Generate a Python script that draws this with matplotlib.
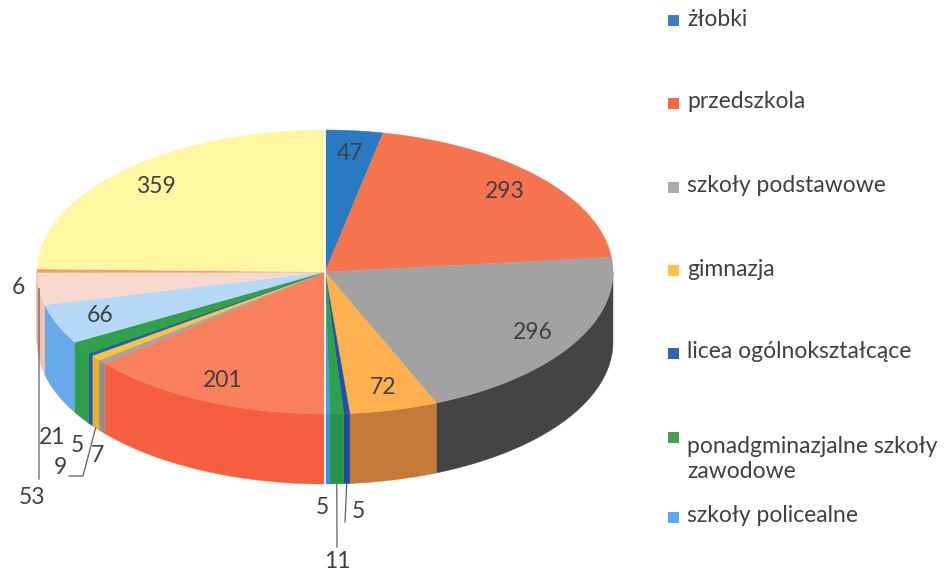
import numpy as np
import matplotlib
matplotlib.use("Agg")
import matplotlib.pyplot as plt
from matplotlib.patches import Polygon, Rectangle

plt.rcParams['font.family'] = ['Lato', 'DejaVu Sans']

# data, clockwise from 12 o'clock
values = [47, 293, 296, 72, 5, 11, 5, 201, 7, 9, 5, 21, 66, 53, 6, 359]
top_colors = ['#2A7AC2', '#F5734F', '#A2A2A2', '#FFB14F', '#2452A0', '#2FA04E', '#3FA0E2',
              '#F8805E', '#A4A4A4', '#FFC23E', '#2460A2', '#30A04C', '#B4D8F6', '#F8D9CF',
              '#F0A070', '#FFF6A2']
side_colors = ['#1F5F9E', '#D85A38', '#444444', '#C47A3A', '#1E4C96', '#2A9048', '#3590D8',
               '#F55E3E', '#8E8E8E', '#EDB030', '#1F5A9C', '#2E9E48', '#66AAEA', '#F3C2B4',
               '#E89060', '#F0E080']
legend_labels = ['żłobki', 'przedszkola', 'szkoły podstawowe', 'gimnazja',
                 'licea ogólnokształcące', 'ponadgminazjalne szkoły\nzawodowe',
                 'szkoły policealne']
legend_colors = ['#3C7DC4', '#F26B45', '#ABABAB', '#FFC24A', '#3462B2', '#4C9E55', '#5AAAF0']

# layout of the tilted pie (pixel units)
CX, CY, RX, RY, DEPTH = 325, 272, 288, 142, 70
TEXT = '#404040'
FS = 16.5

# label spots for the thin slices: index -> (text xy, leader line points)
small_labels = {
    4: ((358, 511), [(345, 522)]),
    5: ((337, 562), [(337, 547)]),
    6: ((322, 508), None),
    8: ((97, 455), None),
    9: ((60, 467), [(83, 476), (69, 476)]),
    10: ((77, 445), None),
    11: ((52, 437), None),
    13: ((32, 497), [(39, 479)]),
    14: ((18, 288), None),
}
legend_y = [20, 103, 187, 270, 353, 437, 517]


def pt(theta, r=1.0, dy=0.0):
    t = np.radians(theta)
    return CX + r * RX * np.sin(t), CY - r * RY * np.cos(t) + dy


fig = plt.figure(figsize=(9.5, 5.73), dpi=100)
ax = fig.add_axes([0, 0, 1, 1])
ax.set_xlim(0, 950)
ax.set_ylim(573, 0)
ax.axis('off')

total = sum(values)
spans = np.array(values) / total * 360
ends = np.cumsum(spans)
starts = ends - spans

# side walls (front half only)
for i, (a, b) in enumerate(zip(starts, ends)):
    lo, hi = max(a, 90), min(b, 270)
    if hi <= lo:
        continue
    th = np.linspace(lo, hi, 60)
    xs, ys = pt(th)
    pts = list(zip(xs, ys)) + list(zip(xs[::-1], ys[::-1] + DEPTH))
    ax.add_patch(Polygon(pts, closed=True, facecolor=side_colors[i], edgecolor=side_colors[i],
                         linewidth=0.3))

# top face
for i, (a, b) in enumerate(zip(starts, ends)):
    th = np.linspace(a, b, max(4, int(b - a) * 2))
    xs, ys = pt(th)
    pts = [(CX, CY)] + list(zip(xs, ys))
    ax.add_patch(Polygon(pts, closed=True, facecolor=top_colors[i], edgecolor=top_colors[i],
                         linewidth=0.3))

# white split line through the middle
for th in (0, 180):
    x, y = pt(th)
    ax.plot([CX, x], [CY, y + (DEPTH if th == 180 else 0)], color='white', lw=1.2)

# data labels
for i, v in enumerate(values):
    mid = (starts[i] + ends[i]) / 2
    if i in small_labels:
        (tx, ty), leader = small_labels[i]
        ax.text(tx, ty, str(v), fontsize=FS, color=TEXT, ha='center', va='center')
        if leader:
            if 90 <= mid <= 270 and i != 13:
                x0, y0 = pt(mid, dy=DEPTH)
            else:
                x0, y0 = pt(mid)
            lx = [x0] + [p[0] for p in leader]
            ly = [y0] + [p[1] for p in leader]
            ax.plot(lx, ly, color='#606060', lw=0.9)
    else:
        x, y = pt(mid, r=0.84)
        ax.text(x, y, str(v), fontsize=FS, color=TEXT, ha='center', va='center')

# legend
for lab, col, y in zip(legend_labels, legend_colors, legend_y):
    ax.add_patch(Rectangle((668, y - 5), 11, 11, facecolor=col, edgecolor='none'))
    ax.text(687, y - 1, lab, fontsize=FS, color=TEXT, ha='left', va='top' if '\n' in lab else 'center',
            linespacing=1.25)

fig.savefig('out.png', dpi=100)
